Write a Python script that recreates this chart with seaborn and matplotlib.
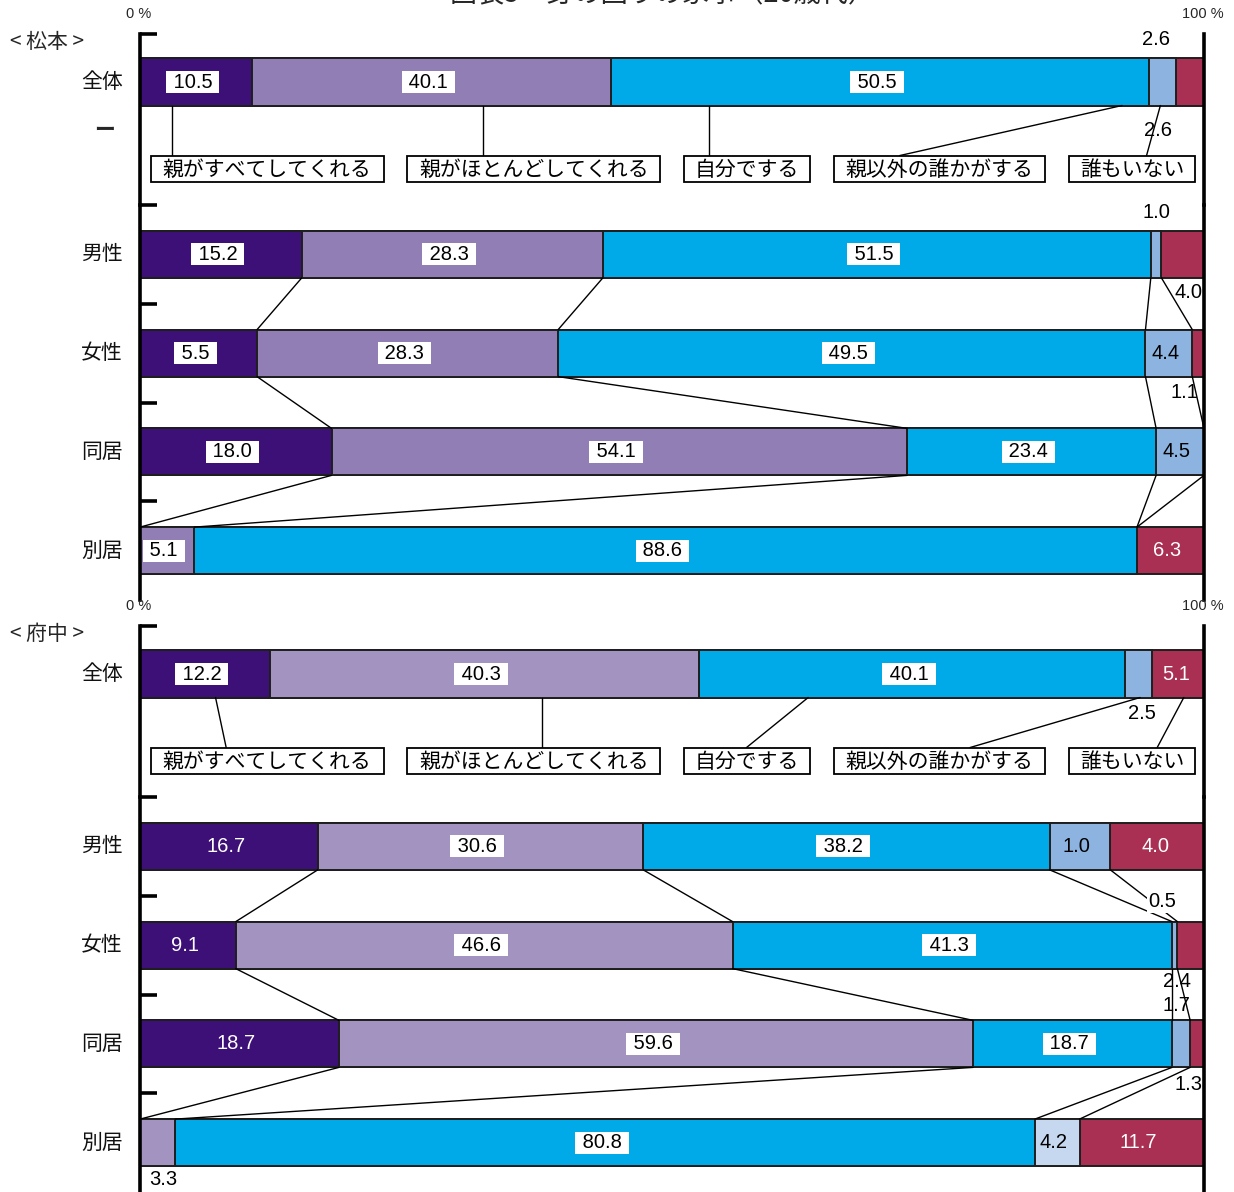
import numpy as np
import pandas as pd
import matplotlib
matplotlib.use('Agg')
import matplotlib.pyplot as plt
from matplotlib.patches import Rectangle
import seaborn as sns

# ---------------- data ----------------
segments = ['親がすべてしてくれる', '親がほとんどしてくれる', '自分でする', '親以外の誰かがする', '誰もいない']
rows_top = ['全体']
rows_bottom = ['男性', '女性', '同居', '別居']
rows_all = rows_top + rows_bottom

# 松本: bar widths (%) per segment, rows = 全体, 男性, 女性, 同居, 別居
mat_parent_all = [10.5, 15.2, 11.0, 18.0, 0.0]
mat_parent_most = [33.8, 28.3, 28.3, 54.1, 5.1]
mat_self = [50.5, 51.5, 55.2, 23.4, 88.6]
mat_other = [2.6, 1.0, 4.4, 4.5, 0.0]
mat_nobody = [2.6, 4.0, 1.1, 0.0, 6.3]

# 府中
fuc_parent_all = [12.2, 16.7, 9.0, 18.7, 0.0]
fuc_parent_most = [40.3, 30.6, 46.7, 59.6, 3.3]
fuc_self = [40.1, 38.2, 41.3, 18.7, 80.8]
fuc_other = [2.5, 5.7, 0.5, 1.7, 4.2]
fuc_nobody = [5.1, 9.0, 2.5, 1.3, 11.7]

# printed labels inside bars (as shown in the chart)
mat_labels = [['10.5', '40.1', '50.5', '', ''],
              ['15.2', '28.3', '51.5', '', ''],
              ['5.5', '28.3', '49.5', '4.4', ''],
              ['18.0', '54.1', '23.4', '4.5', ''],
              ['', '5.1', '88.6', '', '6.3']]
mat_styles = [['b', 'b', 'b', '', ''],
              ['b', 'b', 'b', '', ''],
              ['b', 'b', 'b', 'k', ''],
              ['b', 'b', 'b', 'k', ''],
              ['', 'b', 'b', '', 'w']]
fuc_labels = [['12.2', '40.3', '40.1', '', '5.1'],
              ['16.7', '30.6', '38.2', '1.0', '4.0'],
              ['9.1', '46.6', '41.3', '', ''],
              ['18.7', '59.6', '18.7', '', ''],
              ['', '', '80.8', '4.2', '11.7']]
fuc_styles = [['b', 'b', 'b', '', 'w'],
              ['w', 'b', 'b', 'k', 'w'],
              ['w', 'b', 'b', '', ''],
              ['w', 'b', 'b', '', ''],
              ['', '', 'b', 'k', 'w']]

# labels placed outside the bars: (text, x %, row, offset in row units, white background)
mat_outside = [('2.6', 95.5, '全体', -0.43, False), ('2.6', 95.7, '全体', 0.49, False),
               ('1.0', 95.5, '男性', -0.42, False), ('4.0', 98.5, '男性', 0.39, False),
               ('1.1', 98.2, '女性', 0.40, False)]
fuc_outside = [('2.5', 94.2, '全体', 0.40, False), ('0.5', 96.1, '男性', 0.56, True),
               ('2.4', 97.5, '女性', 0.37, False), ('1.7', 97.4, '同居', -0.39, False),
               ('1.3', 98.5, '同居', 0.41, False), ('3.3', 2.2, '別居', 0.37, False)]

# legend call-out boxes (x range in %) and leader lines
legend_x0 = [1.0, 25.1, 51.1, 65.2, 87.3]
legend_x1 = [22.9, 48.9, 63.0, 85.1, 99.2]
mat_leader_from = [3.0, 32.2, 53.5, 92.3, 95.9]
mat_leader_to = [3.0, 32.2, 53.5, 71.4, 94.6]
fuc_leader_from = [7.1, 37.8, 62.8, 94.0, 98.1]
fuc_leader_to = [8.1, 37.8, 57.0, 78.0, 95.6]

mat_colors = ['#3d1077', '#917eb4', '#00a9e8', '#8db4e0', '#a93053']
fuc_colors = ['#3d1077', '#a393c1', '#00a9e8', '#8db4e0', '#a93053']
fuc_override = {('別居', 3): '#c6d8f0'}

# ---------------- style ----------------
W, H = 1234, 1192
sns.set_theme(style='white')
plt.rcParams['font.family'] = ['Noto Sans CJK JP', 'DejaVu Sans']
NUM_FONT = ['Liberation Sans', 'DejaVu Sans']
EDGE = '#1e1e1e'
UNIT = 98.75
BW = 0.476

fig = plt.figure(figsize=(W / 100, H / 100), dpi=100)


def px_axes(top, bottom):
    return fig.add_axes([140 / W, 1 - bottom / H, 1064 / W, (bottom - top) / H])


def fig_text(xp, yp, s, **kw):
    fig.text(xp / W, 1 - yp / H, s, **kw)


def draw_panel(off, name, series, colors, override, labels, styles, outside,
               lead_from, lead_to, dash):
    vals = np.array(series).T
    cum = np.cumsum(vals, axis=1)
    ax_top = px_axes(34 + off, 205 + off)
    ax_bot = px_axes(205 + off, 600 + off)
    groups = [(ax_top, rows_top, [0]), (ax_bot, rows_bottom, [1, 2, 3, 4])]
    for ax, rows, idx in groups:
        for k in range(4, -1, -1):
            sub = pd.DataFrame({'row': rows, 'cum': cum[idx, k]})
            pal = {r: override.get((r, k), colors[k]) for r in rows}
            sns.barplot(data=sub, x='cum', y='row', hue='row', palette=pal,
                        order=rows, hue_order=rows, orient='h', width=BW,
                        saturation=1, errorbar=None, edgecolor=EDGE,
                        linewidth=1.4, legend=False, ax=ax)
        ax.set_xlim(0, 100)
        ax.set_xlabel('')
        ax.set_ylabel('')
        ax.set_xticks([])
        for s in ['top', 'bottom']:
            ax.spines[s].set_visible(False)
        for s in ['left', 'right']:
            ax.spines[s].set_visible(True)
            ax.spines[s].set_color('black')
            ax.spines[s].set_linewidth(2.6)
        ax.set_facecolor('none')
        # category names
        for j, r in enumerate(rows):
            ax.text(-0.016, j, r, transform=ax.get_yaxis_transform(),
                    ha='right', va='center', fontsize=15, color='#111111')
        # bar value labels
        for j, i in enumerate(idx):
            for k in range(5):
                t = labels[i][k]
                if not t:
                    continue
                x = cum[i, k] - vals[i, k] / 2 - 0.3
                st = styles[i][k]
                kw = dict(ha='center', va='center', fontsize=14.5,
                          family=NUM_FONT, zorder=6)
                if st == 'b':
                    ax.text(x, j, ' ' + t + ' ', color='black',
                            bbox=dict(boxstyle='square,pad=0.08', fc='white',
                                      ec='none'), **kw)
                elif st == 'w':
                    ax.text(x, j, t, color='white', **kw)
                else:
                    ax.text(x, j, t, color='black', **kw)

    top_lim = -(82 - 34) / UNIT
    ax_top.set_ylim((205 - 82) / UNIT, top_lim)
    ax_bot.set_ylim(3.5, -0.5)
    ax_top.set_yticks([top_lim])
    ax_bot.set_yticks([-0.5, 0.5, 1.5, 2.5])
    for ax in (ax_top, ax_bot):
        ax.set_yticklabels([])
        ax.tick_params(axis='y', which='both', direction='in', length=12,
                       width=2.6, left=True, right=False, color='black')

    # series lines between the lower bars
    for i in range(3):
        for k in range(4):
            ax_bot.plot([cum[i + 1, k], cum[i + 2, k]],
                        [i + BW / 2, i + 1 - BW / 2],
                        color='black', lw=1.0, zorder=2)

    # outside labels
    for t, x, r, dy, boxed in outside:
        if r in rows_top:
            ax, y = ax_top, rows_top.index(r) + dy
        else:
            ax, y = ax_bot, rows_bottom.index(r) + dy
        kw = dict(ha='center', va='center', fontsize=14.5, family=NUM_FONT,
                  color='black', zorder=6)
        if boxed:
            kw['bbox'] = dict(boxstyle='square,pad=0.1', fc='white', ec='none')
        ax.text(x, y, t, **kw)

    # legend boxes + leaders
    y0, y1 = 0.745, 1.008
    for k in range(5):
        ax_top.plot([lead_from[k], lead_to[k]], [BW / 2, y0],
                    color='black', lw=1.0, zorder=2)
        ax_top.add_patch(Rectangle((legend_x0[k], y0),
                                   legend_x1[k] - legend_x0[k], y1 - y0,
                                   fc='white', ec='black', lw=1.3, zorder=4))
        ax_top.text((legend_x0[k] + legend_x1[k]) / 2, (y0 + y1) / 2 + 0.01,
                    segments[k], ha='center', va='center', fontsize=15,
                    color='black', zorder=5)

    fig_text(139, 14 + off, '0 %', ha='center', va='center', fontsize=10.5,
             family=NUM_FONT)
    fig_text(1203, 14 + off, '100 %', ha='center', va='center', fontsize=10.5,
             family=NUM_FONT)
    fig_text(47, 42 + off, '< ' + name + ' >', ha='center', va='center',
             fontsize=15)
    if dash:
        fig_text(105, 129 + off, 'ー', ha='center', va='center', fontsize=15,
                 fontweight='bold')


draw_panel(0, '松本',
           [mat_parent_all, mat_parent_most, mat_self, mat_other, mat_nobody],
           mat_colors, {}, mat_labels, mat_styles, mat_outside,
           mat_leader_from, mat_leader_to, True)
draw_panel(592, '府中',
           [fuc_parent_all, fuc_parent_most, fuc_self, fuc_other, fuc_nobody],
           fuc_colors, fuc_override, fuc_labels, fuc_styles, fuc_outside,
           fuc_leader_from, fuc_leader_to, False)

fig_text(662, -6, '図表5　身の回りの家事（20歳代）', ha='center', va='center',
         fontsize=19.5)

fig.savefig('out.png', dpi=100, facecolor='white')
